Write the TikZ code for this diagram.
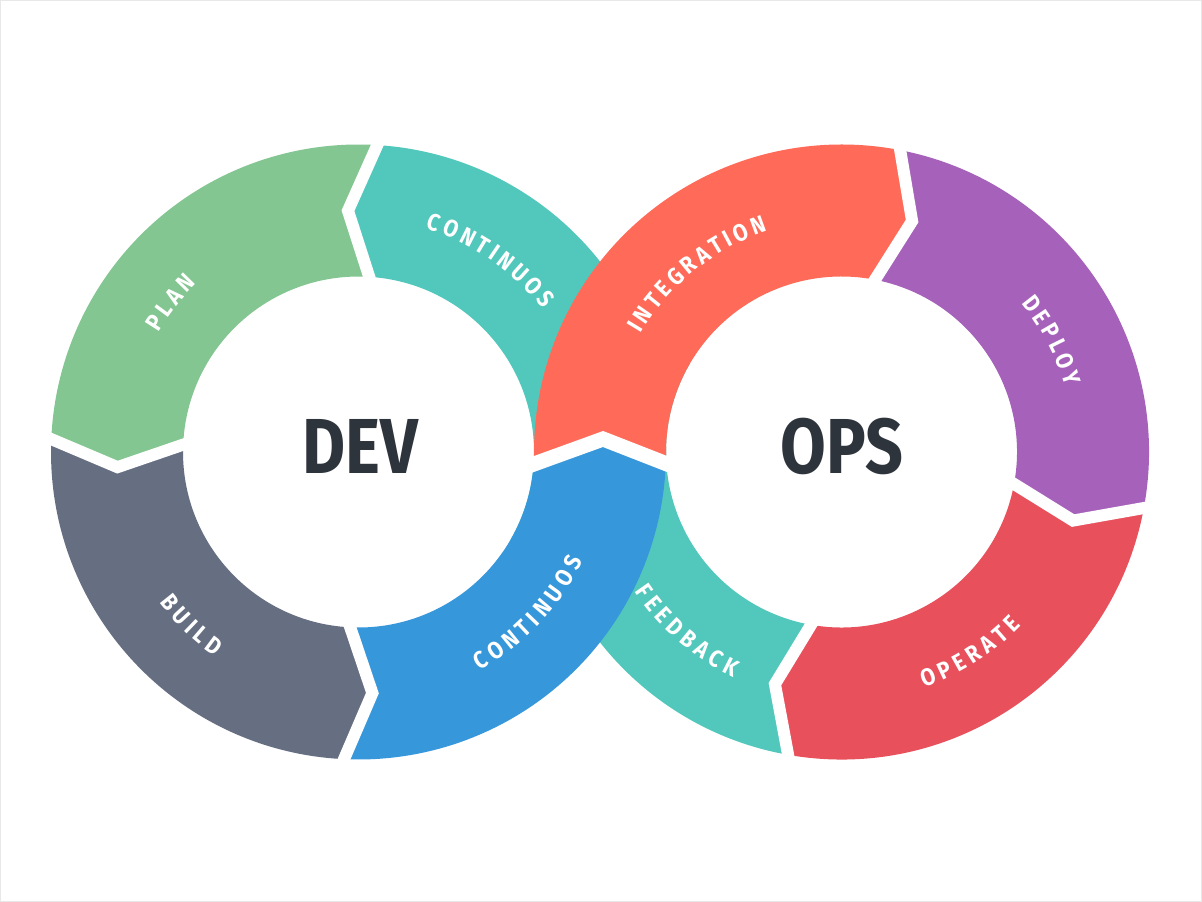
\documentclass[tikz,border=0pt]{standalone}
\usepackage{fontspec}
\setmainfont{Fira Sans}
\usepackage{graphicx}
\usetikzlibrary{calc}

\definecolor{cPlan}{HTML}{83C691}
\definecolor{cTeal}{HTML}{52C8BC}
\definecolor{cBuild}{HTML}{666F82}
\definecolor{cBlue}{HTML}{3797DB}
\definecolor{cInteg}{HTML}{FF6B58}
\definecolor{cDeploy}{HTML}{A662BA}
\definecolor{cOperate}{HTML}{E8505C}
\definecolor{cDark}{HTML}{2E343C}
\definecolor{cFrame}{HTML}{E8E8E8}

\newcommand\Ro{307.5pt}
\newcommand\Ri{175.5pt}
\newcommand\Rm{241.5pt}
\newcommand\trk{4.5}
\newcommand\lblfnt{\bfseries\fontsize{24}{24}\selectfont}
\newcommand\lblchar[1]{\scalebox{0.88}[1]{#1}}

% ring segment: center, tail angle, head angle, chevron offset, colour
\newcommand\ringseg[5]{%
  \fill[#5] ([shift={(#2:\Ro)}]#1) arc[start angle=#2, end angle=#3, radius=\Ro]
    -- ([shift={({#3+#4}:\Rm)}]#1) -- ([shift={(#3:\Ri)}]#1)
    arc[start angle=#3, end angle=#2, radius=\Ri]
    -- ([shift={({#2+#4}:\Rm)}]#1) -- cycle;}

% white chevron separator: center, angle, offset, width
\newcommand\chevsep[4]{%
  \coordinate (sO) at ([shift={(#2:\Ro)}]#1);
  \coordinate (sP) at ([shift={({#2+#3}:\Rm)}]#1);
  \coordinate (sI) at ([shift={(#2:\Ri)}]#1);
  \draw[sepline, line width=#4] ($(sP)!1.25!(sO)$) -- (sP) -- ($(sP)!1.25!(sI)$);}

% letters along an arc: center, mid angle, dir (1 ccw, -1 cw), letters, name prefix
\newcommand\arclabel[5]{%
  \gdef\ltot{0}%
  \foreach \ch in {#4}{%
    \pgfmathsetmacro\ltmp{\ltot+\csname lw\ch\endcsname+\trk}%
    \xdef\ltot{\ltmp}%
  }%
  \pgfmathsetmacro\ltmp{\ltot-\trk}%
  \pgfmathsetmacro\lspan{\ltmp/\Rm*180/pi}%
  \pgfmathsetmacro\lcur{#2-(#3)*\lspan/2}%
  \xdef\lcur{\lcur}%
  \foreach \ch [count=\i] in {#4}{%
    \pgfmathsetmacro\lha{(\csname lw\ch\endcsname)/2/\Rm*180/pi}%
    \pgfmathsetmacro\lmid{\lcur+(#3)*\lha}%
    \pgfmathsetmacro\lrot{\lmid+90*(#3)}%
    \node[lbl, rotate=\lrot] (#5\i) at ([shift={(\lmid:\Rm)}]#1) {\lblchar{\ch}};
    \pgfmathsetmacro\lnx{\lcur+(#3)*(2*\lha+\trk/\Rm*180/pi)}%
    \xdef\lcur{\lnx}%
  }%
}

\begin{document}
\foreach \lc in {A,B,C,D,E,F,G,I,K,L,N,O,P,R,S,T,U,V,Y}{%
  \setbox0=\hbox{\lblfnt\lblchar{\lc}}%
  \expandafter\xdef\csname lw\lc\endcsname{\the\wd0}%
}%
\begin{tikzpicture}[x=1pt, y=1pt,
  sepline/.style={white, line join=miter},
  lbl/.style={text=white, inner sep=0pt, font=\lblfnt, anchor=center},
  bigtxt/.style={text=cDark, inner sep=0pt, font=\bfseries\fontsize{78}{78}\selectfont}]
\useasboundingbox (0,0) rectangle (1202,902);
\fill[white] (0,0) rectangle (1202,902);
\draw[cFrame, line width=1pt] (0.5,0.5) rectangle (1201.5,901.5);

\coordinate (L) at (358.5,450);
\coordinate (R) at (841.5,450);
\coordinate (P1) at (534,438);
\coordinate (P2) at (603,463);
\coordinate (P3) at (667,438);

% teal band (continuous / feedback)
\ringseg{L}{-30}{86.5}{6}{cTeal}
\ringseg{R}{260}{150}{-6}{cTeal}
% left ring
\ringseg{L}{86.5}{177.6}{6}{cPlan}
\ringseg{L}{177.6}{267.3}{6}{cBuild}
% right ring
\ringseg{R}{79}{-10.5}{-6}{cDeploy}
\ringseg{R}{-10.5}{-100}{-6}{cOperate}
% blue continuous
\fill[cBlue] ([shift={(267.3:\Ro)}]L) arc[start angle=267.3, end angle=357.8, radius=\Ro]
  -- (P2) -- ([shift={(356.1:\Ri)}]L) arc[start angle=356.1, end angle=267.3, radius=\Ri]
  -- ([shift={(273.3:\Rm)}]L) -- cycle;
% integration
\fill[cInteg] ([shift={(182.2:\Ro)}]R) arc[start angle=182.2, end angle=79, radius=\Ro]
  -- ([shift={(73:\Rm)}]R) -- ([shift={(79:\Ri)}]R) arc[start angle=79, end angle=183.9, radius=\Ri]
  -- (P2) -- cycle;

% separators
\chevsep{L}{86.5}{6}{12pt}
\chevsep{L}{177.6}{6}{12pt}
\chevsep{L}{267.3}{6}{12pt}
\chevsep{R}{79}{-6}{12pt}
\chevsep{R}{-10.5}{-6}{12pt}
\chevsep{R}{260}{-6}{12pt}
\draw[sepline, line width=15pt] ($(P2)!1.2!(P1)$) -- (P2) -- ($(P2)!1.2!(P3)$);

% centre words
\node[bigtxt] (dev) at (360,456) {\scalebox{0.85}[1]{DEV}};
\node[bigtxt] (ops) at (842,456) {\scalebox{0.85}[1]{OPS}};

% ring labels
\arclabel{L}{141.5}{-1}{P,L,A,N}{plan}
\arclabel{L}{55.5}{-1}{C,O,N,T,I,N,U,O,S}{conta}
\arclabel{L}{226}{1}{B,U,I,L,D}{build}
\arclabel{L}{316.5}{1}{C,O,N,T,I,N,U,O,S}{contb}
\arclabel{R}{129}{-1}{I,N,T,E,G,R,A,T,I,O,N}{integ}
\arclabel{R}{28}{-1}{D,E,P,L,O,Y}{deploy}
\arclabel{R}{302.7}{1}{O,P,E,R,A,T,E}{operate}
\arclabel{R}{229.2}{1}{F,E,E,D,B,A,C,K}{feed}
\end{tikzpicture}
\end{document}
